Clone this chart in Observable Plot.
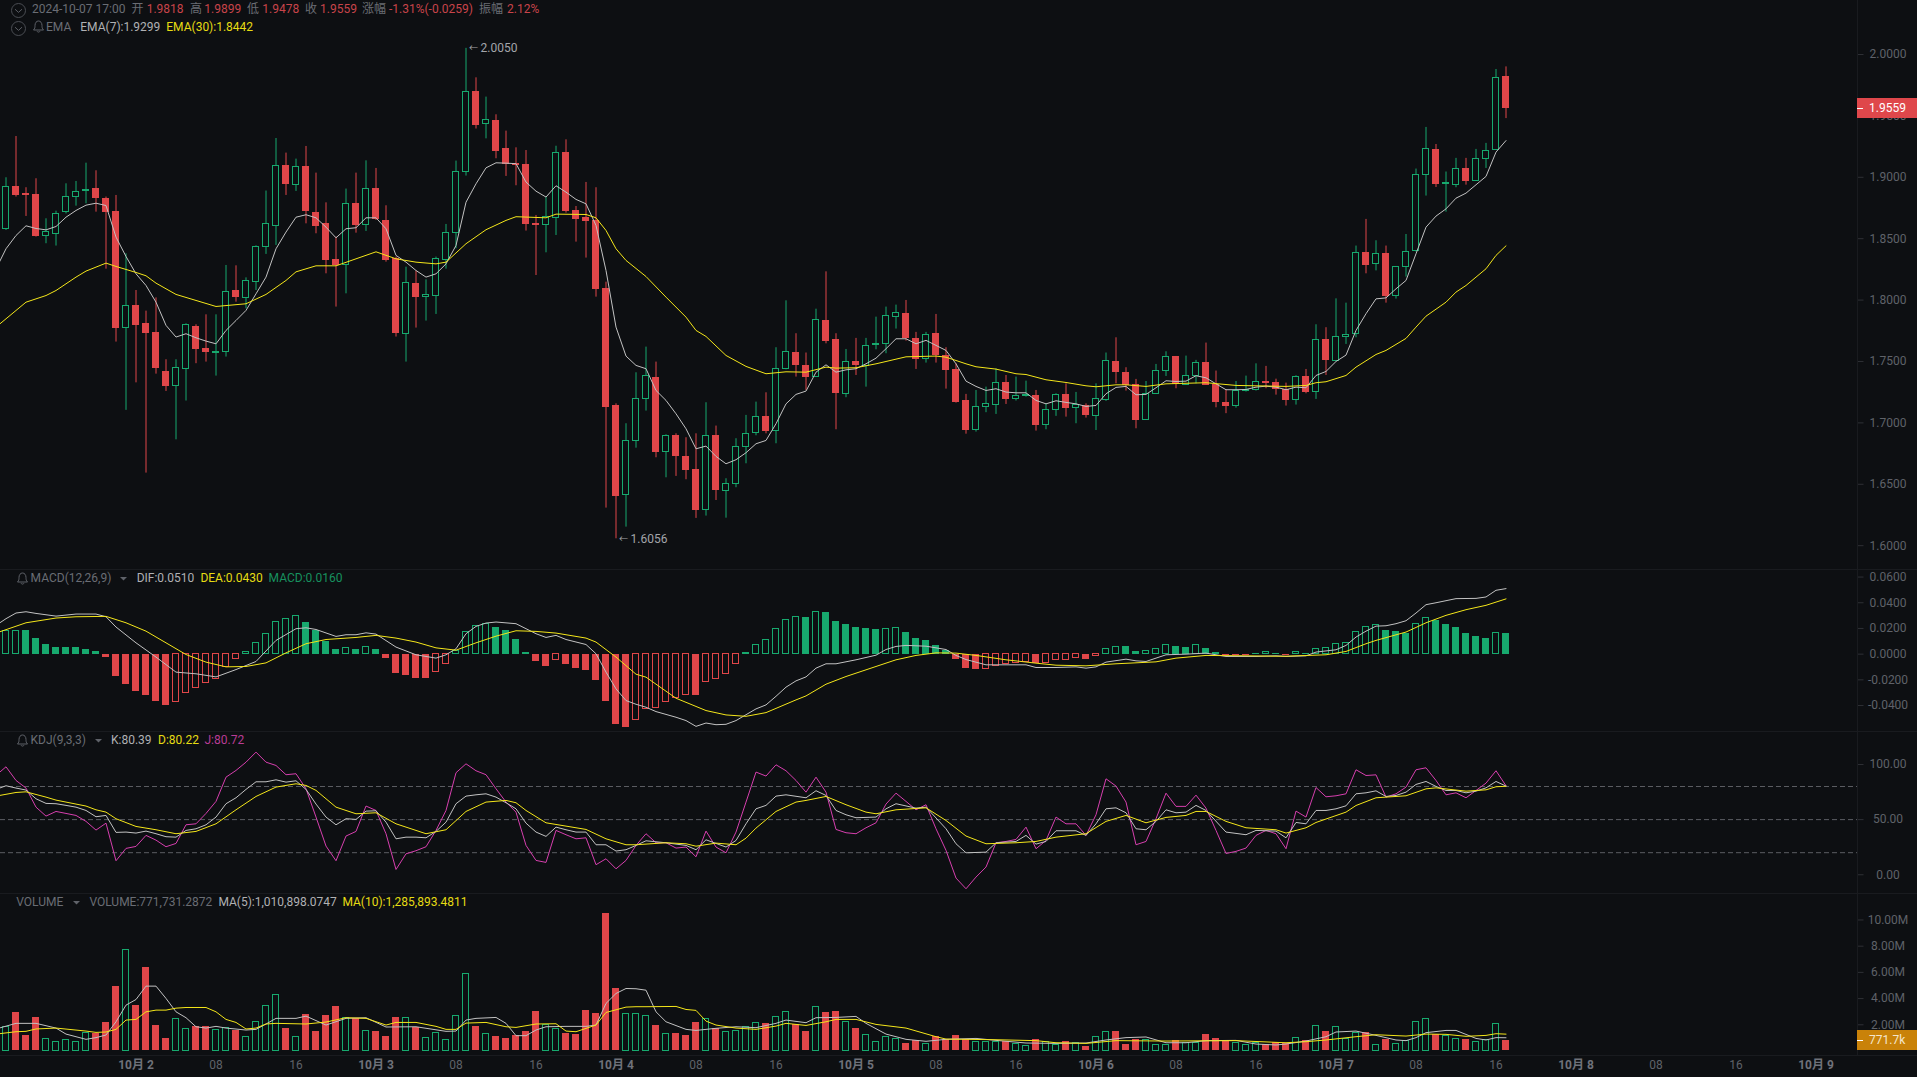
<!DOCTYPE html>
<html><head><meta charset="utf-8">
<script src="https://cdn.jsdelivr.net/npm/d3@7"></script>
<script src="https://cdn.jsdelivr.net/npm/@observablehq/plot@0.6"></script>
<style>
html,body{margin:0;padding:0;width:1917px;height:1077px;overflow:hidden;background:#0d0f12;font-family:Roboto,"Noto Sans CJK SC",sans-serif;font-size:12px}
#root{position:relative;width:1917px;height:1077px;overflow:hidden}
.t{position:absolute;white-space:nowrap;line-height:14px;transform:translateY(-50%)}
.sep{position:absolute;background:#191b1f}
svg.ic{position:absolute;overflow:visible}
.tag{position:absolute;left:1857px;width:60px;height:20px;line-height:20px;transform:translateY(-50%);color:#fff}
.tag i{position:absolute;left:0;top:9.5px;width:6px;height:1px;background:#fff}
.tag span{position:absolute;left:12px}
</style></head><body><div id="root"></div>
<script>
const open=[1.8578,1.8926,1.8866,1.8858,1.8521,1.8540,1.8716,1.8839,1.8890,1.8907,
1.8825,1.8719,1.7775,1.7954,1.7807,1.7734,1.7416,1.7302,1.7440,1.7783,
1.7604,1.7571,1.7579,1.8078,1.8018,1.8146,1.8431,1.8602,1.9094,1.8939,
1.9086,1.8711,1.8621,1.8329,1.8287,1.8784,1.8613,1.8907,1.8645,1.8336,
1.7726,1.8132,1.8027,1.8035,1.8326,1.8548,1.9045,1.9696,1.9433,1.9460,
1.9233,1.9111,1.9102,1.8621,1.8610,1.8670,1.9199,1.8727,1.8673,1.8648,
1.8092,1.7139,1.6414,1.6854,1.7196,1.7367,1.6765,1.6895,1.6727,1.6621,
1.6293,1.6895,1.6448,1.6504,1.6803,1.6919,1.7050,1.6936,1.7438,1.7574,
1.7465,1.7373,1.7834,1.7677,1.7237,1.7498,1.7465,1.7633,1.7644,1.7864,
1.7889,1.7685,1.7522,1.7726,1.7550,1.7432,1.7180,1.6941,1.7131,1.7148,
1.7327,1.7196,1.7218,1.7221,1.6985,1.7107,1.7229,1.7123,1.7145,1.7058,
1.7188,1.7498,1.7408,1.7310,1.7025,1.7237,1.7424,1.7538,1.7310,1.7381,
1.7490,1.7313,1.7164,1.7139,1.7262,1.7270,1.7335,1.7327,1.7270,1.7188,
1.7376,1.7254,1.7677,1.7506,1.7702,1.7720,1.8385,1.8295,1.8377,1.8035,
1.8271,1.8402,1.9021,1.9224,1.8947,1.8939,1.9069,1.8972,1.9151,1.9224,
1.9818];
const close=[1.8920,1.8855,1.8855,1.8521,1.8553,1.8702,1.8841,1.8882,1.8896,1.8831,
1.8716,1.7772,1.7954,1.7796,1.7731,1.7446,1.7299,1.7449,1.7799,1.7601,
1.7577,1.7577,1.8064,1.8024,1.8154,1.8431,1.8621,1.9091,1.8945,1.9083,
1.8724,1.8602,1.8326,1.8282,1.8784,1.8608,1.8904,1.8656,1.8326,1.7731,
1.8140,1.8024,1.8043,1.8336,1.8545,1.9043,1.9693,1.9425,1.9466,1.9213,
1.9107,1.9100,1.8619,1.8610,1.8676,1.9199,1.8721,1.8659,1.8643,1.8089,
1.7128,1.6403,1.6854,1.7196,1.7384,1.6762,1.6895,1.6729,1.6616,1.6290,
1.6895,1.6453,1.6502,1.6803,1.6911,1.7047,1.6933,1.7438,1.7577,1.7468,
1.7373,1.7837,1.7666,1.7242,1.7495,1.7468,1.7625,1.7644,1.7869,1.7894,
1.7691,1.7520,1.7715,1.7550,1.7430,1.7169,1.6941,1.7129,1.7156,1.7324,
1.7194,1.7218,1.7226,1.6982,1.7104,1.7226,1.7120,1.7147,1.7064,1.7194,
1.7503,1.7413,1.7308,1.7023,1.7232,1.7422,1.7536,1.7310,1.7381,1.7487,
1.7308,1.7169,1.7137,1.7259,1.7270,1.7332,1.7324,1.7275,1.7186,1.7373,
1.7251,1.7675,1.7512,1.7699,1.7718,1.8382,1.8285,1.8374,1.8030,1.8268,
1.8391,1.9018,1.9229,1.8945,1.8955,1.9067,1.8969,1.9148,1.9213,1.9807,
1.9559];
const high=[1.8996,1.9332,1.8915,1.8988,1.8662,1.8724,1.8947,1.8966,1.9115,1.9053,
1.8839,1.8852,1.8377,1.8078,1.7910,1.8018,1.7514,1.7514,1.7807,1.7799,
1.7880,1.7880,1.8282,1.8279,1.8181,1.8442,1.8888,1.9316,1.9197,1.9148,
1.9251,1.9034,1.8792,1.8513,1.8904,1.9034,1.9134,1.9072,1.8768,1.8350,
1.8268,1.8236,1.8165,1.8350,1.8616,1.9132,2.0050,1.9810,1.9653,1.9509,
1.9376,1.9240,1.9218,1.8689,1.8839,1.9253,1.9305,1.8762,1.8958,1.8915,
1.8146,1.7155,1.6993,1.7408,1.7617,1.7495,1.6903,1.6911,1.6879,1.6911,
1.7164,1.6974,1.6545,1.6871,1.7061,1.7169,1.7245,1.7612,1.7994,1.7726,
1.7569,1.7926,1.8230,1.7726,1.7598,1.7688,1.7688,1.7861,1.7943,1.7959,
1.7997,1.7737,1.7737,1.7883,1.7612,1.7481,1.7232,1.7264,1.7291,1.7440,
1.7386,1.7373,1.7340,1.7264,1.7155,1.7237,1.7318,1.7248,1.7155,1.7318,
1.7569,1.7693,1.7449,1.7354,1.7337,1.7476,1.7579,1.7541,1.7544,1.7509,
1.7650,1.7422,1.7270,1.7337,1.7381,1.7481,1.7460,1.7356,1.7324,1.7384,
1.7435,1.7799,1.7775,1.8010,1.7975,1.8440,1.8657,1.8483,1.8440,1.8274,
1.8534,1.9067,1.9406,1.9267,1.9043,1.9154,1.9154,1.9227,1.9276,1.9878,
1.9899];
const low=[1.8567,1.8839,1.8681,1.8513,1.8459,1.8440,1.8702,1.8765,1.8784,1.8716,
1.8252,1.7658,1.7102,1.7326,1.6591,1.7397,1.7256,1.6862,1.7178,1.7482,
1.7495,1.7381,1.7536,1.7983,1.7929,1.8078,1.8372,1.8445,1.8852,1.8885,
1.8621,1.8540,1.8214,1.7943,1.8051,1.8545,1.8559,1.8648,1.8309,1.7699,
1.7495,1.7772,1.7829,1.7883,1.8252,1.8418,1.9010,1.9393,1.9313,1.9151,
1.9007,1.8931,1.8562,1.8200,1.8385,1.8526,1.8708,1.8472,1.8342,1.8024,
1.6306,1.6056,1.6151,1.6794,1.7096,1.6716,1.6553,1.6564,1.6537,1.6222,
1.6241,1.6368,1.6224,1.6472,1.6667,1.6895,1.6911,1.6830,1.7432,1.7373,
1.7264,1.7370,1.7644,1.6944,1.7205,1.7386,1.7291,1.7595,1.7563,1.7764,
1.7666,1.7435,1.7487,1.7487,1.7275,1.7161,1.6908,1.6925,1.7083,1.7069,
1.7150,1.7178,1.7210,1.6933,1.6944,1.7053,1.7047,1.6993,1.7039,1.6938,
1.7175,1.7318,1.7259,1.6952,1.7020,1.7232,1.7378,1.7278,1.7305,1.7318,
1.7305,1.7123,1.7075,1.7120,1.7251,1.7259,1.7278,1.7226,1.7137,1.7145,
1.7237,1.7191,1.7386,1.7503,1.7639,1.7693,1.8214,1.8238,1.7975,1.8008,
1.8187,1.8391,1.8847,1.8917,1.8716,1.8915,1.8936,1.8966,1.9072,1.9218,
1.9478];
// EMA(7): first value is the bar before the window (index -1)
const ema7=[1.8254,1.8418,1.8526,1.8605,1.8583,1.8572,1.8599,1.8675,1.8730,1.8773,1.8789,
1.8770,1.8513,1.8355,1.8214,1.8119,1.7983,1.7794,1.7699,1.7726,1.7693,
1.7666,1.7644,1.7753,1.7834,1.7916,1.8051,1.8187,1.8418,1.8554,1.8675,
1.8695,1.8670,1.8594,1.8507,1.8581,1.8589,1.8670,1.8670,1.8581,1.8364,
1.8309,1.8241,1.8187,1.8214,1.8295,1.8445,1.8797,1.8947,1.9077,1.9118,
1.9115,1.9111,1.8961,1.8887,1.8839,1.8931,1.8879,1.8820,1.8784,1.8608,
1.8241,1.7780,1.7544,1.7468,1.7441,1.7264,1.7183,1.7074,1.6952,1.6789,
1.6811,1.6727,1.6667,1.6700,1.6757,1.6830,1.6857,1.6993,1.7155,1.7232,
1.7259,1.7413,1.7473,1.7413,1.7432,1.7441,1.7481,1.7527,1.7604,1.7685,
1.7685,1.7644,1.7672,1.7631,1.7590,1.7481,1.7340,1.7297,1.7264,1.7278,
1.7251,1.7245,1.7245,1.7183,1.7155,1.7180,1.7167,1.7155,1.7134,1.7142,
1.7237,1.7289,1.7297,1.7229,1.7232,1.7286,1.7343,1.7337,1.7340,1.7384,
1.7367,1.7318,1.7270,1.7270,1.7272,1.7291,1.7299,1.7291,1.7270,1.7291,
1.7286,1.7386,1.7419,1.7500,1.7552,1.7753,1.7889,1.8010,1.8018,1.8092,
1.8160,1.8377,1.8594,1.8684,1.8743,1.8830,1.8871,1.8939,1.9007,1.9205,
1.9299];
const ema30Idx=[-1,2,4,5,7,8,10,11,13,14,15,17,21,24,26,28,29,31,33,35,37,39,41,43,44,46,48,50,51,54,55,58,59,60,61,62,64,66,68,69,70,72,74,76,78,80,82,83,85,87,90,93,94,96,97,99,101,102,104,106,108,109,111,112,114,116,120,123,128,130,131,132,134,135,137,138,140,141,142,144,145,146,148,149,150];
const ema30=[1.7780,1.7983,1.8037,1.8078,1.8187,1.8236,1.8301,1.8274,1.8225,1.8198,1.8138,1.8046,1.7948,1.7970,1.8046,1.8160,1.8230,1.8279,1.8279,1.8336,1.8393,1.8336,1.8309,1.8295,1.8309,1.8459,1.8573,1.8649,1.8679,1.8670,1.8700,1.8697,1.8670,1.8567,1.8418,1.8323,1.8192,1.8024,1.7861,1.7753,1.7704,1.7549,1.7460,1.7400,1.7416,1.7413,1.7454,1.7446,1.7449,1.7481,1.7538,1.7544,1.7535,1.7481,1.7457,1.7438,1.7400,1.7394,1.7351,1.7329,1.7302,1.7294,1.7310,1.7310,1.7297,1.7318,1.7327,1.7305,1.7297,1.7305,1.7327,1.7335,1.7386,1.7454,1.7557,1.7590,1.7688,1.7780,1.7869,1.7983,1.8065,1.8119,1.8255,1.8364,1.8442];
const hist=[.0177,.0182,.0181,.0122,.0075,.0052,.0052,.0052,.0036,.0021,
-.0023,-.0172,-.0237,-.0289,-.0322,-.0369,-.0398,-.0374,-.0304,-.0265,
-.0224,-.0195,-.0101,-.0039,.0018,.0088,.0159,.0250,.0276,.0299,
.0247,.0185,.0099,.0036,.0049,.0036,.0057,.0036,-.0034,-.0151,
-.0166,-.0190,-.0190,-.0140,-.0078,.0026,.0174,.0221,.0234,.0208,
.0182,.0114,.0010,-.0057,-.0096,-.0047,-.0081,-.0112,-.0127,-.0205,
-.0369,-.0546,-.0569,-.0515,-.0425,-.0421,-.0374,-.0343,-.0317,-.0320,
-.0218,-.0195,-.0156,-.0078,.0010,.0073,.0112,.0198,.0268,.0291,
.0286,.0330,.0325,.0255,.0231,.0208,.0200,.0192,.0198,.0205,
.0169,.0122,.0107,.0068,.0026,-.0042,-.0112,-.0120,-.0117,-.0096,
-.0078,-.0070,-.0062,-.0073,-.0068,-.0049,-.0044,-.0031,-.0042,-.0016,
.0042,.0057,.0056,.0021,.0024,.0042,.0073,.0060,.0052,.0068,
.0044,.0013,-.0008,-.0008,-.0013,.0005,.0013,.0005,-.0013,.0013,
.0003,.0039,.0049,.0081,.0088,.0174,.0213,.0229,.0184,.0177,
.0164,.0236,.0283,.0262,.0231,.0208,.0161,.0138,.0122,.0166,
.0160];
const difIdx=[-1,0,1,2,3,5,7,9,10,11,13,15,17,19,21,23,25,27,29,30,31,33,34,35,36,37,39,41,43,44,45,46,47,48,49,51,53,54,55,56,58,59,60,61,62,63,64,65,67,68,69,70,71,72,73,75,76,77,78,79,80,81,82,83,85,87,88,89,90,92,94,95,96,98,100,102,103,105,107,108,109,110,112,113,114,116,118,120,122,125,127,128,130,131,133,134,135,136,137,138,139,140,141,142,143,145,147,148,149,150];
const dif=[.0224,.0276,.0320,.0330,.0317,.0296,.0312,.0312,.0291,.0211,.0088,-.0023,-.0140,-.0153,-.0177,-.0120,-.0057,.0107,.0198,.0205,.0192,.0138,.0151,.0151,.0166,.0156,.0055,-.0005,-.0031,-.0005,.0042,.0159,.0216,.0242,.0250,.0237,.0159,.0130,.0146,.0114,.0075,.0003,-.0140,-.0270,-.0361,-.0390,-.0413,-.0447,-.0491,-.0517,-.0562,-.0536,-.0549,-.0546,-.0517,-.0426,-.0395,-.0328,-.0257,-.0208,-.0177,-.0109,-.0075,-.0075,-.0044,-.0008,.0036,.0060,.0068,.0062,.0036,-.0010,-.0042,-.0083,-.0083,-.0083,-.0104,-.0104,-.0099,-.0109,-.0099,-.0062,-.0039,-.0052,-.0057,-.0005,0,.0008,-.0018,-.0018,-.0013,-.0018,-.0013,.0016,.0034,.0068,.0133,.0179,.0218,.0221,.0237,.0260,.0320,.0385,.0400,.0432,.0434,.0445,.0497,.0510];
const deaIdx=[-1,2,5,7,10,12,14,16,18,20,22,24,26,28,30,32,35,37,39,41,43,45,47,49,51,53,55,58,59,61,63,64,67,70,72,74,76,79,80,82,84,87,89,91,93,95,97,100,103,105,108,111,115,117,120,124,127,128,132,134,136,137,140,142,144,146,148,150];
const dea=[.0164,.0244,.0281,.0291,.0294,.0244,.0179,.0088,-.0003,-.0062,-.0099,-.0096,-.0068,.0010,.0081,.0114,.0130,.0146,.0125,.0094,.0049,.0031,.0088,.0140,.0182,.0177,.0164,.0125,.0094,-.0023,-.0156,-.0179,-.0343,-.0439,-.0473,-.0484,-.0455,-.0356,-.0325,-.0234,-.0174,-.0096,-.0044,-.0010,.0010,.0008,-.0010,-.0044,-.0070,-.0086,-.0091,-.0075,-.0060,-.0031,-.0010,-.0013,-.0016,-.0016,-.0005,.0021,.0081,.0107,.0172,.0244,.0302,.0346,.0380,.0430];
const jVal=[90.1,97.9,85.5,78.6,61.3,53.2,57.4,55.6,53.8,48.4,40.5,46.8,12.7,23.9,25.7,35.7,31.4,25.4,28.4,45.3,46.2,55.6,66.5,88.5,94.6,102.1,111.2,102.1,99.1,90.7,91.6,78.0,52.3,26.0,12.7,35.1,39.3,62.3,58.3,37.2,4.8,19.0,21.8,25.4,40.2,58.3,92.5,100.6,94.3,90.7,78.0,65.9,56.8,26.6,13.0,11.2,40.2,36.3,32.6,33.5,9.1,14.5,5.4,13.0,26.6,
37.2,29.0,29.0,24.2,25.1,16.3,39.6,25.1,19.9,38.7,65.9,93.1,89.5,99.7,94.3,85.5,74.9,88.5,74.9,41.1,38.1,37.2,42.6,47.1,64.1,74.0,66.5,58.9,63.5,41.7,22.1,-3.0,-12.7,-2.1,7.0,29.0,30.2,32.0,43.2,23.6,31.1,52.3,46.2,46.2,35.7,54.4,87.0,80.4,65.9,27.2,30.2,50.8,74.0,62.0,62.0,72.2,60.4,40.2,19.3,21.2,24.2,35.7,40.2,37.2,
23.6,57.7,52.3,79.1,70.7,71.6,73.4,95.2,90.0,90.6,70.4,73.4,79.5,95.2,97.0,85.5,72.5,74.3,69.8,76.4,83.1,94.3,80.72];
const kIdx=[-1,0,1,2,3,4,5,6,7,8,9,10,11,12,13,14,15,16,17,18,19,20,21,22,23,24,25,26,27,28,29,30,31,32,33,34,35,36,37,38,39,40,41,42,43,44,45,46,47,48,49,50,51,52,53,54,55,56,57,58,59,60,61,62,63,64,66,68,69,70,72,73,74,75,76,77,78,80,81,82,83,84,85,87,88,89,91,92,94,95,96,98,99,101,102,103,104,105,107,108,109,110,111,112,113,114,115,116,117,118,119,120,122,124,125,127,128,129,130,131,132,133,134,135,136,137,138,139,140,141,142,143,144,145,146,147,148,149,150];
const kVal=[77.4,80.7,78.6,76.8,68.9,64.7,64.4,62.9,61.3,58.3,52.6,53.8,38.4,38.7,37.8,39.6,37.2,34.5,34.1,40.2,41.7,45.3,52.3,64.4,69.8,77.4,84.3,84.3,86.1,84.0,85.2,77.4,64.1,52.3,45.3,50.8,50.2,57.7,58.0,47.7,32.6,34.1,34.1,33.5,39.3,47.7,64.4,71.3,72.5,73.4,70.4,65.3,59.8,46.8,38.7,34.8,43.2,40.8,38.7,38.7,27.2,27.2,21.5,22.7,26.6,30.8,29.0,26.6,22.7,31.7,25.1,31.1,46.2,59.8,62.9,71.3,72.5,69.8,76.2,71.9,58.3,54.4,51.7,52.3,59.8,64.4,60.4,61.3,41.7,28.1,19.9,20.5,29.0,30.2,35.7,27.8,30.2,39.9,39.9,35.7,46.2,59.8,60.7,56.2,41.7,40.8,48.4,58.9,56.2,56.8,62.9,58.3,38.7,36.3,40.2,39.6,33.5,47.4,46.2,58.3,58.3,59.8,62.5,73.4,74.3,76.1,71.0,71.9,74.9,81.9,84.6,80.1,76.4,76.4,74.3,75.8,78.8,84.6,80.39];
const dIdx=[-1,1,2,4,5,8,9,10,11,13,15,17,19,21,23,25,27,29,30,31,33,35,37,39,42,44,46,48,50,51,52,54,56,58,60,62,63,64,66,68,69,71,73,74,75,77,79,80,82,84,86,87,89,92,94,96,98,101,103,105,108,110,112,114,116,118,119,120,122,124,127,128,130,131,134,135,137,140,142,143,146,148,149,150];
const dVal=[71.3,74.6,75.2,70.4,67.7,62.3,58.9,56.8,50.8,43.8,40.8,37.2,39.3,46.2,58.9,71.0,79.5,82.5,81.0,76.5,61.3,55.3,56.2,46.2,37.2,40.8,57.4,65.9,67.4,65.3,58.3,47.1,44.1,41.1,32.6,27.2,27.2,27.8,29.0,28.1,25.9,28.7,27.2,33.2,42.3,57.4,65.9,67.4,71.0,63.5,56.8,55.3,58.9,60.7,49.2,35.1,28.1,29.0,30.2,34.1,37.2,48.4,53.8,47.1,52.0,53.8,57.4,57.4,48.4,42.6,40.8,37.8,42.6,47.4,56.8,62.8,69.8,71.6,77.9,78.8,75.8,77.0,79.8,80.22];
const volume=[1.85,2.97,1.22,2.59,.89,.71,.81,.71,1.35,1.35,
2.21,4.95,7.74,3.50,6.40,1.98,.99,2.41,1.65,1.90,
1.90,1.57,1.78,1.60,1.04,2.18,3.40,4.31,1.68,1.04,
2.82,1.52,2.74,3.43,2.54,2.49,1.50,1.45,1.07,2.59,
2.49,1.83,.96,1.35,.81,2.64,5.91,1.90,1.27,1.14,
.99,1.22,1.52,3.05,1.95,1.65,1.37,1.29,3.12,2.89,
10.48,4.80,2.79,2.79,2.64,1.98,1.27,1.37,1.22,2.21,
2.41,1.70,1.42,1.50,1.80,2.11,2.13,2.56,2.94,2.06,
1.45,3.32,2.97,3.05,2.18,1.68,1.19,.66,1.04,.89,
.61,.79,.51,1.14,.91,1.22,.91,.66,.71,.66,
.71,.56,.36,.91,.66,.43,.74,.58,.38,1.04,
1.42,1.45,.53,.91,.81,.43,.43,.79,.63,.61,
1.29,.99,.71,.63,.43,.58,.46,.63,.56,.96,
.81,1.88,1.52,1.80,.89,1.40,1.42,.43,.84,.51,
.76,2.18,2.41,1.27,1.12,.89,.91,.71,.81,2.03,
.7717];
const ma5Idx=[-1,1,3,5,6,8,9,10,11,12,13,14,15,16,17,18,19,20,21,22,24,25,26,27,29,30,32,34,36,38,41,44,45,46,47,49,50,51,52,53,54,56,58,59,60,61,62,63,64,65,66,68,69,71,73,75,77,78,80,81,83,85,86,88,90,92,94,97,99,102,105,108,110,112,114,116,118,120,123,125,127,128,130,132,133,135,137,139,140,141,142,144,145,147,148,149,150];
const ma5=[1.68,2.11,2.11,1.75,1.29,.89,1.02,1.22,2.23,3.50,3.93,4.95,4.95,4.01,2.99,2.54,1.85,1.75,1.88,1.75,1.60,1.65,2.06,2.49,2.49,2.66,1.98,2.49,2.54,1.83,1.85,1.50,1.52,2.36,2.49,2.56,2.11,1.17,1.17,1.60,1.85,1.88,1.88,1.98,3.63,4.39,4.77,4.75,4.64,2.99,2.23,1.65,1.57,1.73,1.85,1.78,2.11,2.36,2.16,2.54,2.56,2.64,2.11,1.29,.89,.74,.89,.96,.81,.61,.58,.61,.84,1.02,1.07,.63,.63,.79,.81,.53,.46,.53,.76,1.09,1.45,1.52,1.19,.84,.79,1.02,1.40,1.57,1.57,.96,.84,1.02,1.0109];
const ma10Idx=[-1,1,2,3,5,8,9,10,11,12,13,14,15,16,17,18,20,21,22,23,24,25,26,27,30,32,34,36,38,39,41,43,44,45,46,48,50,51,53,55,56,57,59,60,62,63,64,67,68,69,70,71,73,75,77,78,80,82,83,85,87,90,93,94,99,103,105,108,111,116,123,127,128,130,132,135,137,140,142,144,146,148,149,150];
const ma10=[1.29,1.47,1.50,1.68,1.75,1.52,1.42,1.45,1.65,2.36,2.41,2.99,3.12,3.12,3.27,3.32,3.32,2.99,2.41,2.18,1.68,1.75,2.06,2.11,2.06,2.21,2.54,2.49,1.98,2.18,2.18,1.88,1.65,1.65,2.13,2.18,1.85,1.80,2.06,2.08,1.52,1.47,1.98,2.94,3.35,3.38,3.38,3.40,3.17,3.10,2.28,1.98,1.75,1.65,1.90,2.11,1.95,2.23,2.41,2.41,2.03,1.75,1.09,.91,.86,.79,.63,.58,.79,.76,.79,.66,.63,.71,.84,1.09,1.24,1.14,1.29,1.27,1.12,1.19,1.32,1.2859];
const priceTicks=[2.0,1.95,1.9,1.85,1.8,1.75,1.7,1.65,1.6];
const macdTicks=[.06,.04,.02,0,-.02,-.04];
const kdjTicks=[100,50,0];
const kdjLevels=[80,50,20];
const volTicks=[10,8,6,4,2];
const dayTicks=[13,37,61,85,109,133,157,181];
const dayLabels=["10月 2","10月 3","10月 4","10月 5","10月 6","10月 7","10月 8","10月 9"];
const hourTicks=[21,29,45,53,69,77,93,101,117,125,141,149,165,173];
const hourLabels=["08","16","08","16","08","16","08","16","08","16","08","16","08","16"];

for(const [n,a,l] of [["open",open,151],["close",close,151],["high",high,151],["low",low,151],["ema7",ema7,152],["hist",hist,151],["j",jVal,152],["vol",volume,151],["ema30",ema30,ema30Idx.length],["dif",dif,difIdx.length],["dea",dea,deaIdx.length],["k",kVal,kIdx.length],["d",dVal,dIdx.length],["ma5",ma5,ma5Idx.length],["ma10",ma10,ma10Idx.length]]) if(a.length!==l) throw new Error(n+" length "+a.length+" != "+l);

const BG="#0d0f12",RED="#e04649",GREEN="#17a96e",WHITE="#c2c2c2",YELLOW="#f4e61a",MAG="#d63fae",AXIS="#5f6269",TICK="#2e3035",FONT='Roboto,"Noto Sans CJK SC",sans-serif';
const root=document.getElementById("root");
const xDomain=[-0.55,185.15];
const idx=d3.range(151);
const pairs=(is,vs)=>is.map((i,k)=>({i,v:vs[k]}));
const dense=(vs)=>vs.map((v,k)=>({i:k-1,v}));
const up=i=>close[i]>=open[i];
const lineMark=(data,stroke)=>Plot.line(data,{x:"i",y:"v",stroke,strokeWidth:1,clip:true,curve:"linear"});

function pane(top,height,yDomain,marks,marginBottom=0){
  const svg=Plot.plot({width:1917,height,marginLeft:0,marginRight:60,marginTop:0,marginBottom,
    x:{domain:xDomain,axis:null},y:{domain:yDomain,axis:null},
    style:{background:"transparent",fontFamily:FONT,fontSize:"12px",maxWidth:"none",height:height+"px",position:"absolute",left:"0",top:top+"px"},
    marks});
  root.appendChild(svg);
  return svg;
}
const yAxis=(ticks,fmt)=>Plot.axisY(ticks,{anchor:"right",tickSize:5.5,tickPadding:25,textAnchor:"middle",stroke:TICK,fill:AXIS,tickFormat:fmt,label:null,fontSize:12});

for(const [l,t,w,h] of [[0,569,1917,1],[0,731,1917,1],[0,893,1917,1],[0,1055,1917,1],[1857,0,1,1055]]){
  const d=document.createElement("div");d.className="sep";d.style.cssText=`left:${l}px;top:${t}px;width:${w}px;height:${h}px`;root.appendChild(d);
}

const hiI=d3.maxIndex(high),loI=d3.minIndex(low);
const redI=idx.filter(i=>!up(i)),greenI=idx.filter(up);
const extremes=[{i:hiI,p:high[hiI]},{i:loI,p:low[loI]}];
const main=pane(0,569,[1.5806,2.04397],[
  yAxis(priceTicks,v=>v.toFixed(4)),
  Plot.ruleX(redI,{x:i=>i,y1:i=>low[i],y2:i=>high[i],stroke:RED,strokeWidth:1}),
  Plot.ruleX(greenI,{x:i=>i,y1:i=>low[i],y2:i=>high[i],stroke:GREEN,strokeWidth:1}),
  Plot.rect(redI,{x1:i=>i-.35,x2:i=>i+.35,y1:i=>open[i],y2:i=>close[i],fill:RED,shapeRendering:"crispEdges"}),
  Plot.rect(greenI,{x1:i=>i-.3,x2:i=>i+.3,y1:i=>open[i],y2:i=>close[i],fill:BG,stroke:GREEN,strokeWidth:1,shapeRendering:"crispEdges"}),
  lineMark(dense(ema7),WHITE),
  lineMark(pairs(ema30Idx,ema30),YELLOW),
  Plot.text(extremes,{x:"i",y:"p",text:()=>"←",textAnchor:"start",dx:3,fill:"#a3a5aa",fontSize:9}),
  Plot.text(extremes,{x:"i",y:"p",text:d=>d.p.toFixed(4),textAnchor:"start",dx:14.5,fill:"#a3a5aa",fontSize:12})
]);

const rising=i=>i===0||hist[i]>hist[i-1];
const hCol=i=>hist[i]>=0?GREEN:RED;
pane(570,161,[-0.0602,0.0651],[
  yAxis(macdTicks,v=>v.toFixed(4)),
  Plot.rect(idx.filter(i=>!rising(i)),{x1:i=>i-.35,x2:i=>i+.35,y1:0,y2:i=>hist[i],fill:hCol,shapeRendering:"crispEdges"}),
  Plot.rect(idx.filter(rising),{x1:i=>i-.3,x2:i=>i+.3,y1:0,y2:i=>hist[i],fill:BG,stroke:hCol,strokeWidth:1,shapeRendering:"crispEdges"}),
  lineMark(pairs(difIdx,dif),WHITE),
  lineMark(pairs(deaIdx,dea),YELLOW)
]);

pane(731,162,[-17,129.9],[
  yAxis(kdjTicks,v=>v.toFixed(2)),
  Plot.ruleY(kdjLevels,{y:d=>d,stroke:"#5c5e63",strokeWidth:1,strokeDasharray:"5,3"}),
  lineMark(dense(jVal),MAG),
  lineMark(pairs(kIdx,kVal),WHITE),
  lineMark(pairs(dIdx,dVal),YELLOW)
]);

const volP=pane(893,162,[-0.344,12.02],[
  yAxis(volTicks,v=>v.toFixed(2)+"M"),
  Plot.rect(redI,{x1:i=>i-.35,x2:i=>i+.35,y1:0,y2:i=>volume[i],fill:RED,shapeRendering:"crispEdges"}),
  Plot.rect(greenI,{x1:i=>i-.3,x2:i=>i+.3,y1:0,y2:i=>volume[i],fill:BG,stroke:GREEN,strokeWidth:1,shapeRendering:"crispEdges"}),
  lineMark(pairs(ma5Idx,ma5),WHITE),
  lineMark(pairs(ma10Idx,ma10),YELLOW)
]);

pane(1055,22,[0,1],[
  Plot.axisX(dayTicks,{anchor:"bottom",tickSize:0,tickPadding:5,fill:"#6f727a",fontWeight:"bold",fontSize:12,label:null,tickFormat:v=>dayLabels[dayTicks.indexOf(v)]}),
  Plot.axisX(hourTicks,{anchor:"bottom",tickSize:0,tickPadding:5,fill:AXIS,fontSize:12,label:null,tickFormat:v=>hourLabels[hourTicks.indexOf(v)]})
],22);

// value tags placed through the panes' own y scales
function tag(y,txt,bg,fg){
  const d=document.createElement("div");d.className="tag";
  d.style.top=y+"px";d.style.background=bg;d.style.color=fg;
  d.innerHTML=`<i></i><span>${txt}</span>`;root.appendChild(d);
}
tag(main.scale("y").apply(close[150]),close[150].toFixed(4),"#df474b","#fff");
tag(893+volP.scale("y").apply(volume[150]),"771.7k","#c98209","#f4e6cc");

// header texts
function label(x,y,text,color){
  const s=document.createElement("span");s.className="t";s.textContent=text;
  s.style.cssText=`left:${x}px;top:${y}px;color:${color}`;root.appendChild(s);
}
const G="#6a6d74",R="#c8444a",L="#b0b1b4",Y="#e6dc12",GT="#17915f",M="#b93c95";
[[32,"2024-10-07 17:00",G],[131.5,"开",G],[146.7,"1.9818",R],[190,"高",G],[204.3,"1.9899",R],[247,"低",G],[262.3,"1.9478",R],[305,"收",G],[320,"1.9559",R],[362,"涨幅",G],[389,"-1.31%(-0.0259)",R],[479,"振幅",G],[507,"2.12%",R]].forEach(a=>label(a[0],8.5,a[1],a[2]));
[[46,"EMA",G],[80.3,"EMA(7):1.9299",L],[166.3,"EMA(30):1.8442",Y]].forEach(a=>label(a[0],26.5,a[1],a[2]));
[[30.6,"MACD(12,26,9)",G],[136.7,"DIF:0.0510",L],[200.4,"DEA:0.0430",Y],[268.6,"MACD:0.0160",GT]].forEach(a=>label(a[0],577.8,a[1],a[2]));
[[30.6,"KDJ(9,3,3)",G],[111,"K:80.39",L],[158,"D:80.22",Y],[204.5,"J:80.72",M]].forEach(a=>label(a[0],739.8,a[1],a[2]));
[[16.3,"VOLUME",G],[89.4,"VOLUME:771,731.2872",G],[218.4,"MA(5):1,010,898.0747",L],[342.4,"MA(10):1,285,893.4811",Y]].forEach(a=>label(a[0],902,a[1],a[2]));

function icon(x,y,w,h,html){
  const n=document.createElementNS("http://www.w3.org/2000/svg","svg");
  n.setAttribute("class","ic");n.setAttribute("width",w);n.setAttribute("height",h);
  n.style.left=x+"px";n.style.top=y+"px";n.innerHTML=html;root.appendChild(n);
}
const chev='<circle cx="7.5" cy="7.5" r="7" fill="none" stroke="#4a4d53"/><path d="M4 6.2 L7.5 9.4 L11 6.2" fill="none" stroke="#5a5d63"/>';
icon(10.5,2.5,15,15,chev);icon(10.5,20.5,15,15,chev);
const bell='<path d="M1.5 10 C3 8.5 3 7 3 5.5 C3 2.8 4.5 1 6.5 1 C8.5 1 10 2.8 10 5.5 C10 7 10 8.5 11.5 10 Z M5 11.2 C5.5 12.4 7.5 12.4 8 11.2" fill="none" stroke="#5f6269" stroke-width="1"/>';
icon(32,20,13,13,bell);icon(16,571.5,13,13,bell);icon(16,733.5,13,13,bell);
const caret='<path d="M0 0 L7 0 L3.5 3.5 Z" fill="#5f6269"/>';
icon(120,576.5,7,4,caret);icon(94.5,738.5,7,4,caret);icon(72.5,900.5,7,4,caret);
</script></body></html>
